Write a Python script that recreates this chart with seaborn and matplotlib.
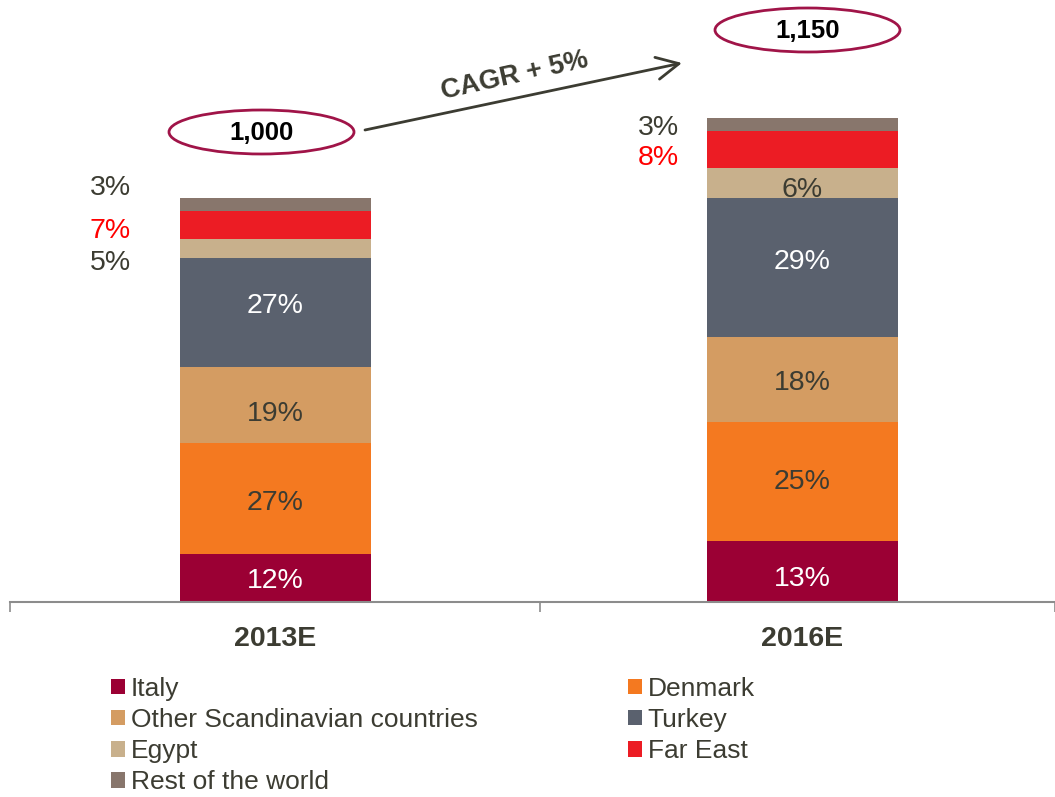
import numpy as np
import pandas as pd
import matplotlib
matplotlib.use("Agg")
import matplotlib.pyplot as plt
import seaborn as sns
from matplotlib.patches import Ellipse, Patch

# ---------------- data ----------------
years = ["2013E", "2016E"]
regions = ["Italy", "Denmark", "Other Scandinavian countries", "Turkey",
           "Egypt", "Far East", "Rest of the world"]
italy = [119, 150]
denmark = [274, 297]
other_scand = [190, 210]
turkey = [268, 344]
egypt = [48, 73]
far_east = [70, 93]
rest_world = [31, 33]
share_2013 = ["12%", "27%", "19%", "27%", "5%", "7%", "3%"]
share_2016 = ["13%", "25%", "18%", "29%", "6%", "8%", "3%"]
totals = ["1,000", "1,150"]
cagr_label = "CAGR + 5%"

colors = ["#9b0034", "#f47920", "#d49c62", "#5a616e",
          "#c8b08c", "#ec1c24", "#88766c"]
dark = "#3c3c32"

sns.set_theme(style="white")
plt.rcParams["font.family"] = ["Liberation Sans", "DejaVu Sans"]

W, H = 1055, 797
fig = plt.figure(figsize=(W / 100, H / 100), dpi=100)

def fx(px):
    return px / W

def fy(py):
    return 1 - py / H

ax = fig.add_axes([fx(10), fy(602), (1055 - 10) / W, 602 / H])

values = np.array([italy, denmark, other_scand, turkey, egypt, far_east, rest_world])
cum = values.cumsum(axis=0)
df = pd.DataFrame({"year": np.repeat([years], len(regions), axis=0).ravel(),
                   "region": np.repeat(regions, len(years)),
                   "value": values.ravel(),
                   "top": cum.ravel()})

bar_w = 191 / 527
for i in range(len(regions) - 1, -1, -1):
    sub = df[df["region"] == regions[i]]
    sns.barplot(data=sub, x="year", y="top", color=colors[i], saturation=1,
                width=bar_w, errorbar=None, linewidth=0, ax=ax, order=years)

# axes scale so that 1000 units ~ 403.7 px
px_unit = 1000 / 403.7
ax.set_ylim(0, 602 * px_unit)
ax.set_xlim(-0.5038, 1.479)
ax.set_xlabel("")
ax.set_ylabel("")
ax.set_yticks([])
for s in ["top", "right", "left"]:
    ax.spines[s].set_visible(False)
ax.spines["bottom"].set_color("#8c8c8c")
ax.spines["bottom"].set_linewidth(1.5)
ax.set_xticks([0, 1])
ax.set_xticklabels(years, fontsize=20.5, fontweight="bold", color=dark)
ax.tick_params(axis="x", which="major", length=0, pad=17.5)
ax.set_xticks([-0.5038, 0.502, 1.479], minor=True)
ax.tick_params(axis="x", which="minor", length=7, width=1.2, color="#8c8c8c",
               direction="out", bottom=True)

# segment labels (layout nudges in px, positive = downward)
shares = [share_2013, share_2016]
label_colors = ["white", dark, dark, "white", dark, "#ff0000", dark]
nudge_px = [[0, 1.5, 6, -9.5, 11, 3, -19.5],
            [4.5, -2, 1, -8, 3.5, 5.5, 1]]
outside_dx = {(0, 4): -0.314, (0, 5): -0.314, (0, 6): -0.314,
              (1, 5): -0.274, (1, 6): -0.274}
for j in range(len(years)):
    for i in range(len(regions)):
        mid = cum[i, j] - values[i, j] / 2
        y = mid - (nudge_px[j][i] + 3) * px_unit
        x = j + outside_dx.get((j, i), 0)
        ax.text(x, y, shares[j][i], ha="center", va="center",
                fontsize=20.5, color=label_colors[i])

# total ellipses
ell_pos = [(261.5, 132), (807.5, 30)]
for (cx, cy), t in zip(ell_pos, totals):
    fig.add_artist(Ellipse((fx(cx), fy(cy)), width=185 / W, height=44 / H,
                           transform=fig.transFigure, fill=False,
                           edgecolor="#a01448", linewidth=2))
    fig.text(fx(cx), fy(cy + 1), t, ha="center", va="center", fontsize=18.5,
             fontweight="bold", color="black")

# CAGR arrow
ax.annotate("", xy=(fx(682), fy(63)), xytext=(fx(365), fy(130)),
            xycoords="figure fraction", textcoords="figure fraction",
            arrowprops=dict(arrowstyle="->,head_length=0.8,head_width=0.4",
                            color=dark, lw=2, mutation_scale=20,
                            shrinkA=0, shrinkB=0))
fig.text(fx(515), fy(76), cagr_label, ha="center", va="center",
         rotation=12.5, rotation_mode="anchor", fontsize=19.5,
         fontweight="bold", color=dark)

# legends (two columns, row-wise order)
handles = [Patch(facecolor=c, edgecolor="none") for c in colors]
col1 = [0, 2, 4, 6]
col2 = [1, 3, 5]
for idx, x0 in ((col1, 111), (col2, 628)):
    leg = fig.legend([handles[k] for k in idx], [regions[k] for k in idx],
                     loc="upper left", bbox_to_anchor=(fx(x0), fy(677)),
                     frameon=False, fontsize=19, handlelength=0.52,
                     handleheight=0.52, handletextpad=0.22, labelspacing=0.27,
                     borderpad=0, borderaxespad=0)
    for t in leg.get_texts():
        t.set_color(dark)

fig.savefig("out.png", dpi=100)
